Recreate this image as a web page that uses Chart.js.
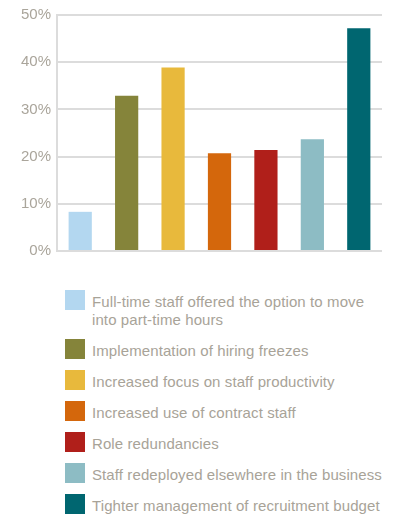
<!DOCTYPE html>
<html>
<head>
<meta charset="utf-8">
<script src="https://cdn.jsdelivr.net/npm/chart.js@4"></script>
<style>
  body { margin: 0; background: #fff; font-family: "Liberation Sans", Arial, sans-serif; }
  #wrap { position: relative; width: 394px; height: 516px; }
  #chartBox { position: absolute; left: 0; top: 0; width: 394px; height: 266px; }
  #legend { position: absolute; left: 65px; top: 290px; width: 329px; }
  .item { display: flex; align-items: flex-start; margin-bottom: 10px; }
  .swatch { width: 20px; height: 20px; flex: none; margin-right: 7px; }
  .label { color: #a8a398; font-size: 15px; line-height: 18px; padding-top: 3px; width: 296px; letter-spacing: 0.1px; }
</style>
</head>
<body>
<div id="wrap">
  <div id="chartBox"><canvas id="barChart"></canvas></div>
  <div id="legend"></div>
</div>
<script>
  const categories = [
    "Full-time staff offered the option to move into part-time hours",
    "Implementation of hiring freezes",
    "Increased focus on staff productivity",
    "Increased use of contract staff",
    "Role redundancies",
    "Staff redeployed elsewhere in the business",
    "Tighter management of recruitment budget"
  ];
  const values = [8.3, 32.9, 38.9, 20.7, 21.4, 23.7, 47.2];
  const barColors = ["#b3d7f0", "#85843a", "#e8b93c", "#d4670c", "#b01f1a", "#8dbcc4", "#006670"];
  const tickValues = [0, 10, 20, 30, 40, 50];

  // legend built from the same arrays
  const legend = document.getElementById("legend");
  categories.forEach((name, i) => {
    const row = document.createElement("div");
    row.className = "item";
    row.innerHTML = '<div class="swatch" style="background:' + barColors[i] + '"></div><div class="label">' + name + "</div>";
    legend.appendChild(row);
  });

  new Chart(document.getElementById("barChart").getContext("2d"), {
    type: "bar",
    data: {
      labels: categories,
      datasets: [
        {
          data: values,
          backgroundColor: barColors,
          barPercentage: 0.5,
          categoryPercentage: 1,
        },
      ],
    },
    options: {
      responsive: true,
      maintainAspectRatio: false,
      animation: false,
      layout: { padding: { top: 8, right: 12, left: 0, bottom: 0 } },
      plugins: { legend: { display: false }, tooltip: { enabled: false } },
      scales: {
        x: {
          display: false,
        },
        y: {
          min: 0,
          max: 50,
          afterFit: (axis) => { axis.width = 57; },
          afterBuildTicks: (axis) => { axis.ticks = tickValues.map((v) => ({ value: v })); },
          ticks: {
            color: "#aaa59b",
            font: { family: "Liberation Sans", size: 15 },
            padding: 6,
            callback: (v) => v + "%",
          },
          grid: { color: "#dcdcdc", lineWidth: 2, drawTicks: false },
          border: { display: true, color: "#dcdcdc", width: 2 },
        },
      },
    },
  });
</script>
</body>
</html>
